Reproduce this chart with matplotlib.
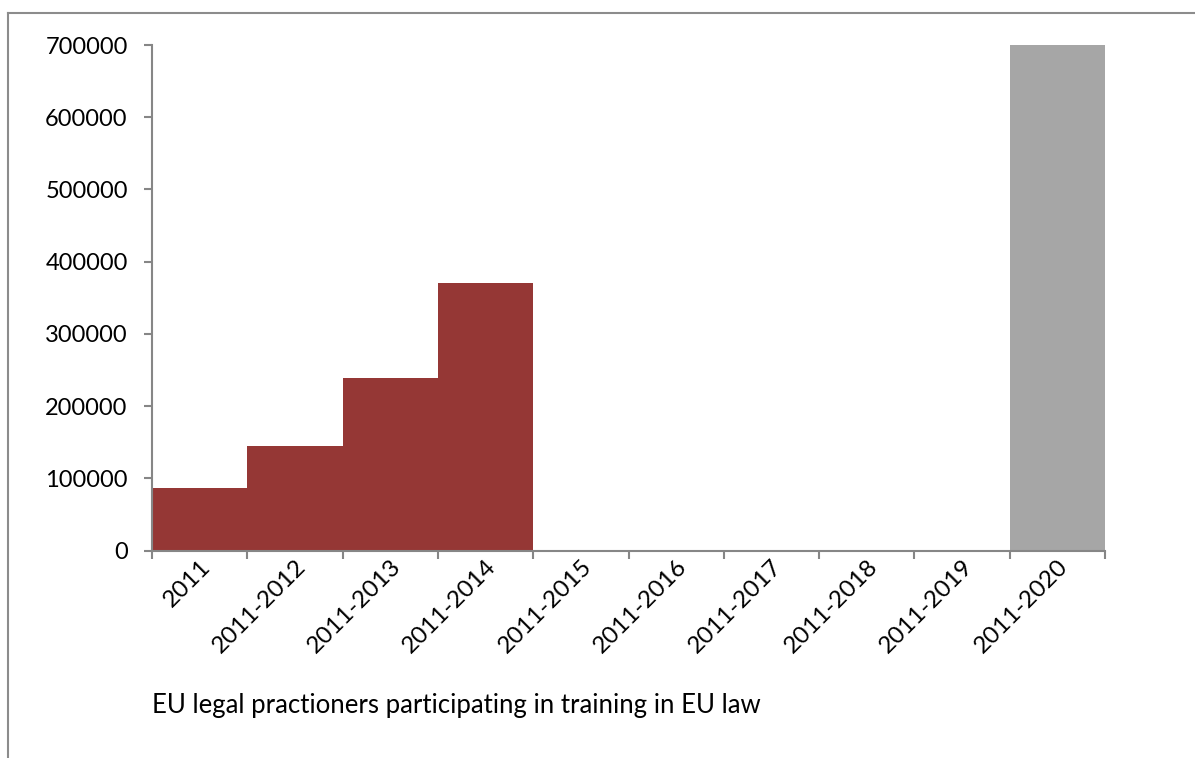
import numpy as np
import matplotlib
matplotlib.use('Agg')
import matplotlib.pyplot as plt
from matplotlib.lines import Line2D

periods = ['2011', '2011-2012', '2011-2013', '2011-2014', '2011-2015',
           '2011-2016', '2011-2017', '2011-2018', '2011-2019', '2011-2020']
achieved = [86500, 145000, 239000, 370000, 0, 0, 0, 0, 0, 0]
target = [0, 0, 0, 0, 0, 0, 0, 0, 0, 700000]
yticks = [0, 100000, 200000, 300000, 400000, 500000, 600000, 700000]
caption = 'EU legal practioners participating in training in EU law'

plt.rcParams['font.family'] = ['Lato', 'DejaVu Sans']

W, H = 1195, 758
fig = plt.figure(figsize=(W / 100, H / 100), dpi=100)
ax = fig.add_axes([152 / W, 1 - 550.5 / H, (1105 - 152) / W, (550.5 - 45) / H])

x = np.arange(len(periods))
ax.bar(x, achieved, width=1.0, color='#953735', linewidth=0)
ax.bar(x, target, width=1.0, color='#a6a6a6', linewidth=0)

ax.set_xlim(-0.5, len(periods) - 0.5)
ax.set_ylim(0, 700000)
ax.set_yticks(yticks)
ax.set_yticklabels([str(v) for v in yticks])

ax.set_xticks(np.arange(len(periods) + 1) - 0.5)
ax.set_xticklabels([])
ax.set_xticks(x, minor=True)
ax.set_xticklabels(periods, minor=True, rotation=45, ha='right',
                   rotation_mode='anchor')

for s in ['top', 'right']:
    ax.spines[s].set_visible(False)
for s in ['left', 'bottom']:
    ax.spines[s].set_color('#868686')
    ax.spines[s].set_linewidth(1.5)

ax.tick_params(axis='y', length=5.5, width=1.5, color='#868686',
               labelsize=17, pad=12)
ax.tick_params(axis='x', which='major', length=6, width=1.5, color='#868686')
ax.tick_params(axis='x', which='minor', length=0, labelsize=17.5, pad=4)

fig.text(152 / W, 1 - 705 / H, caption, fontsize=18.5, va='center', ha='left')

# outer chart frame (cropped at right and bottom)
fig.add_artist(Line2D([8 / W, 8 / W], [0, 1 - 13 / H], transform=fig.transFigure,
                      color='#8c8c8c', linewidth=1.5))
fig.add_artist(Line2D([8 / W, 1], [1 - 13 / H, 1 - 13 / H], transform=fig.transFigure,
                      color='#8c8c8c', linewidth=1.5))

fig.savefig('out.png', dpi=100)
